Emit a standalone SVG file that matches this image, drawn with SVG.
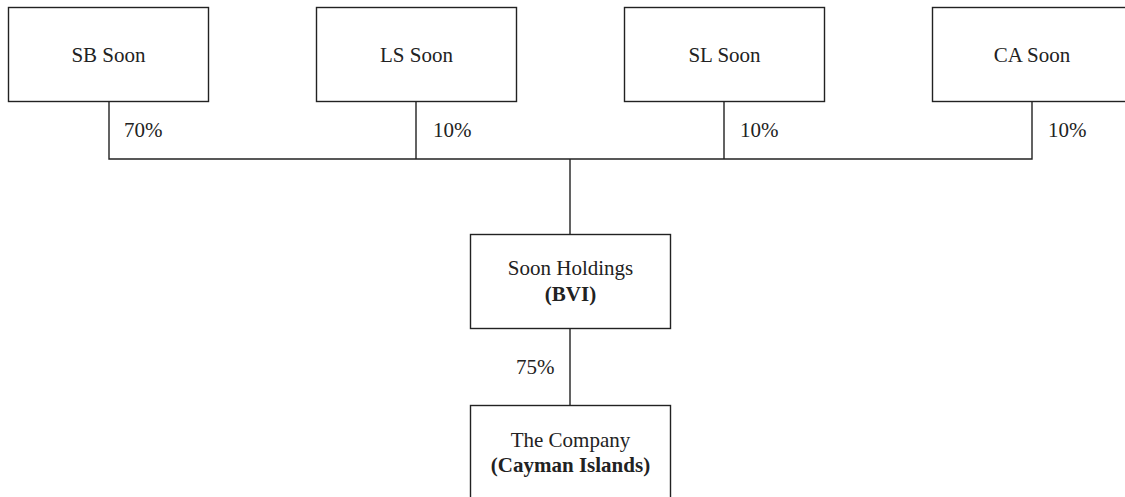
<svg xmlns="http://www.w3.org/2000/svg" width="1125" height="497" viewBox="0 0 1125 497">
<style>
.box{fill:#fff;stroke:#222;stroke-width:1.4}
.ln{fill:none;stroke:#222;stroke-width:1.4}
text{font-family:"Liberation Serif","Times New Roman",serif;font-size:21px;fill:#222}
.c{text-anchor:middle}
.b{font-weight:bold}
</style>
<rect width="1125" height="497" fill="#fff"/>
<g id="connectors">
<path class="ln" d="M109 101V159H1032V101M416 101V159M724 101V159M570 159V235M570 329V405"/>
<text x="124" y="137">70%</text>
<text x="433" y="137">10%</text>
<text x="740" y="137">10%</text>
<text x="1048" y="137">10%</text>
<text x="516" y="374">75%</text>
</g>
<g id="sb">
<rect class="box" x="8.5" y="7.5" width="200" height="94"/>
<text class="c" x="108.5" y="62">SB Soon</text>
</g>
<g id="ls">
<rect class="box" x="316.5" y="7.5" width="200" height="94"/>
<text class="c" x="416.5" y="62">LS Soon</text>
</g>
<g id="sl">
<rect class="box" x="624.5" y="7.5" width="200" height="94"/>
<text class="c" x="724.5" y="62">SL Soon</text>
</g>
<g id="ca">
<rect class="box" x="932.5" y="7.5" width="200" height="94"/>
<text class="c" x="1032" y="62">CA Soon</text>
</g>
<g id="holdings">
<rect class="box" x="470.5" y="234.5" width="200" height="94"/>
<text class="c" x="570.5" y="275">Soon Holdings</text>
<text class="c b" x="570.5" y="301">(BVI)</text>
</g>
<g id="company">
<rect class="box" x="470.5" y="405.5" width="200" height="100"/>
<text class="c" x="570.5" y="447">The Company</text>
<text class="c b" x="570.5" y="472">(Cayman Islands)</text>
</g>
</svg>
